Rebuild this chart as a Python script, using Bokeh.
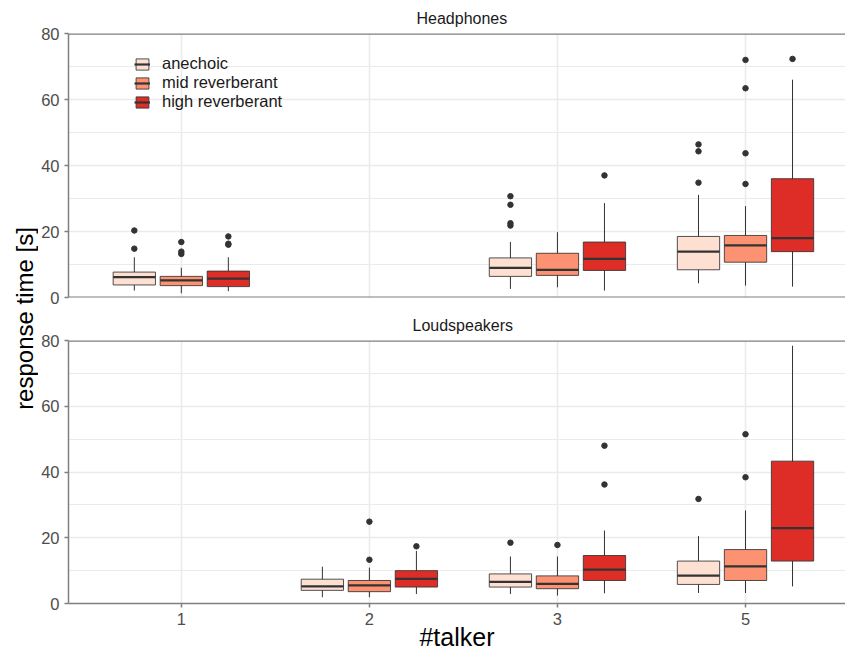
import math
from bokeh.plotting import figure
from bokeh.models import Range1d, FixedTicker, Span, Legend, LegendItem, Label, ColumnDataSource
from bokeh.layouts import row, column
from bokeh.embed import file_html
from bokeh.resources import INLINE

# ---------------- data ----------------
talkers = ["1", "2", "3", "5"]
conditions = ["anechoic", "mid reverberant", "high reverberant"]
colors = ["#FEE0D2", "#FC9272", "#DE2D26"]

# Headphones: box statistics (condition x talker)
hp_talker = ["1", "3", "5", "1", "3", "5", "1", "3", "5"]
hp_cond = ["anechoic", "anechoic", "anechoic",
           "mid reverberant", "mid reverberant", "mid reverberant",
           "high reverberant", "high reverberant", "high reverberant"]
hp_lower = [2.1, 2.6, 4.3, 1.3, 3.1, 3.6, 1.9, 2.1, 3.3]
hp_q1 = [3.8, 6.4, 8.4, 3.6, 6.7, 10.7, 3.3, 8.2, 13.9]
hp_median = [6.2, 9.0, 13.9, 5.2, 8.4, 15.8, 5.7, 11.7, 18.0]
hp_q3 = [7.7, 12.0, 18.5, 6.4, 13.4, 18.8, 8.0, 16.8, 36.0]
hp_upper = [12.2, 16.8, 31.1, 9.0, 19.8, 27.7, 12.2, 28.6, 66.0]
hp_out_talker = ["1", "1", "3", "3", "3", "3", "5", "5", "5",
                 "1", "1", "1", "5", "5", "5", "5",
                 "1", "1", "1", "3", "5"]
hp_out_cond = ["anechoic"] * 9 + ["mid reverberant"] * 7 + ["high reverberant"] * 5
hp_out_value = [14.8, 20.3, 21.8, 22.5, 28.1, 30.7, 34.8, 44.3, 46.4,
                13.2, 13.9, 16.8, 34.4, 43.7, 63.4, 72.0,
                16.0, 16.3, 18.5, 37.0, 72.3]

# Loudspeakers: box statistics (condition x talker)
ls_talker = ["2", "3", "5", "2", "3", "5", "2", "3", "5"]
ls_cond = ["anechoic", "anechoic", "anechoic",
           "mid reverberant", "mid reverberant", "mid reverberant",
           "high reverberant", "high reverberant", "high reverberant"]
ls_lower = [1.9, 2.9, 3.2, 1.9, 2.4, 3.2, 2.9, 3.1, 5.2]
ls_q1 = [4.0, 5.0, 5.8, 3.6, 4.5, 7.0, 5.0, 7.0, 12.9]
ls_median = [5.2, 6.6, 8.5, 5.5, 6.0, 11.3, 7.5, 10.3, 22.9]
ls_q3 = [7.4, 9.0, 12.9, 7.0, 8.4, 16.4, 10.0, 14.6, 43.3]
ls_upper = [11.2, 14.3, 20.5, 10.9, 14.3, 28.3, 16.0, 22.2, 78.4]
ls_out_talker = ["3", "5", "2", "2", "3", "5", "5", "2", "3", "3"]
ls_out_cond = ["anechoic"] * 2 + ["mid reverberant"] * 5 + ["high reverberant"] * 3
ls_out_value = [18.5, 31.8, 13.3, 24.9, 17.8, 38.4, 51.5, 17.4, 36.2, 48.0]

y_ticks = [0, 20, 40, 60, 80]
y_minor = [10, 30, 50, 70]

# ---------------- styling ----------------
FONT = "Liberation Sans"
DODGE = [-0.25, 0.0, 0.25]
BOX_W = 0.225
LINE = "#333333"
FRAME = "#7F7F7F"
GRID = "#EBEBEB"
YLAB_W = 38
TOTAL_H = 653
FRAME_L = 67          # frame left edge on the page
PX_PER_CAT = 188.3    # pixels between categories


def xpos(t, c):
    return talkers.index(t) + 1 + DODGE[conditions.index(c)]


def make_panel(title, title_offset, talker, cond, lower, q1, med, q3, upper,
               out_t, out_c, out_v, height, top_b, bot_b, bottom_axis):
    p = figure(width=845 - YLAB_W, height=height, output_backend="svg", toolbar_location=None,
               x_range=Range1d(0.4, 0.4 + (845 - FRAME_L) / PX_PER_CAT), y_range=Range1d(0, 80),
               min_border_left=FRAME_L - YLAB_W, min_border_right=0,
               min_border_top=top_b, min_border_bottom=bot_b)
    p.outline_line_color = None
    p.background_fill_color = "white"
    p.border_fill_color = "white"

    p.title.text = title
    p.title.align = "left"
    p.title.offset = title_offset
    p.title.text_font = FONT
    p.title.text_font_size = "16px"
    p.title.text_font_style = "normal"
    p.title.text_color = "#1A1A1A"
    p.title.standoff = 14

    # axes
    p.yaxis.ticker = FixedTicker(ticks=y_ticks, minor_ticks=y_minor)
    p.xaxis.ticker = FixedTicker(ticks=[1, 2, 3, 4])
    p.xaxis.major_label_overrides = {1: "1", 2: "2", 3: "3", 4: "5"}
    for ax in (p.xaxis[0], p.yaxis[0]):
        ax.axis_line_color = FRAME
        ax.axis_line_width = 1.5
        ax.major_tick_line_color = FRAME
        ax.major_tick_line_width = 1.5
        ax.major_tick_out = 4
        ax.major_tick_in = 0
        ax.minor_tick_line_color = None
        ax.major_label_text_font = FONT
        ax.major_label_text_font_size = "16.5px"
        ax.major_label_text_color = "#4D4D4D"
        ax.axis_label_text_font = FONT
        ax.axis_label_text_font_style = "normal"
        ax.axis_label_text_font_size = "25px"
        ax.axis_label_text_color = "#000000"
    p.yaxis.major_label_standoff = 5
    p.xaxis.major_label_standoff = 5
    if bottom_axis:
        p.xaxis.axis_label = "#talker"
        p.xaxis.axis_label_standoff = -5
    else:
        p.xaxis.visible = False
        p.add_layout(Span(location=0, dimension="width", line_color=FRAME, line_width=2))
    p.add_layout(Span(location=80, dimension="width", line_color=FRAME, line_width=2.5))

    # grid
    p.xgrid.grid_line_color = GRID
    p.xgrid.grid_line_width = 1.6
    p.ygrid.grid_line_color = GRID
    p.ygrid.grid_line_width = 1.6
    p.ygrid.minor_grid_line_color = GRID
    p.ygrid.minor_grid_line_width = 1

    items = []
    for ci, c in enumerate(conditions):
        idx = [i for i in range(len(talker)) if cond[i] == c]
        xs = [xpos(talker[i], c) for i in idx]
        src = ColumnDataSource(dict(
            x=xs,
            lower=[lower[i] for i in idx], q1=[q1[i] for i in idx],
            med=[med[i] for i in idx], q3=[q3[i] for i in idx],
            upper=[upper[i] for i in idx],
            x0=[x - BOX_W / 2 for x in xs], x1=[x + BOX_W / 2 for x in xs]))
        p.segment(x0="x", y0="lower", x1="x", y1="upper", source=src,
                  line_color=LINE, line_width=1)
        box = p.vbar(x="x", width=BOX_W, bottom="q1", top="q3", source=src,
                     fill_color=colors[ci], line_color=LINE, line_width=1, line_alpha=0.85)
        medr = p.segment(x0="x0", y0="med", x1="x1", y1="med", source=src,
                         line_color=LINE, line_width=2.2)
        items.append(LegendItem(label=c, renderers=[box, medr]))

        oidx = [i for i in range(len(out_t)) if out_c[i] == c]
        osrc = ColumnDataSource(dict(
            x=[xpos(out_t[i], c) for i in oidx], y=[out_v[i] for i in oidx]))
        p.scatter(x="x", y="y", source=osrc, size=5.5, fill_color=LINE,
                  line_color=LINE)
    return p, items


TOP_H = 307
top, top_items = make_panel("Headphones", 348, hp_talker, hp_cond, hp_lower, hp_q1, hp_median,
                            hp_q3, hp_upper, hp_out_talker, hp_out_cond, hp_out_value,
                            TOP_H, 33, 10, False)
bot, _ = make_panel("Loudspeakers", 344, ls_talker, ls_cond, ls_lower, ls_q1, ls_median,
                    ls_q3, ls_upper, ls_out_talker, ls_out_cond, ls_out_value,
                    TOTAL_H - TOP_H, 33, 50, True)

legend = Legend(items=top_items, location=(66, 186), orientation="vertical",
                label_text_font=FONT, label_text_font_size="16.5px",
                label_text_color="#1A1A1A", glyph_width=16, glyph_height=14,
                label_height=14, spacing=0, padding=0, margin=0,
                label_standoff=12, border_line_color=None,
                background_fill_alpha=0)
top.add_layout(legend)

# y-axis title shared by both panels
ylab = figure(width=YLAB_W, height=TOTAL_H, output_backend="svg", toolbar_location=None,
              x_range=Range1d(0, YLAB_W), y_range=Range1d(0, TOTAL_H),
              x_axis_type=None, y_axis_type=None,
              min_border_left=0, min_border_right=0, min_border_top=0, min_border_bottom=0)
ylab.outline_line_color = None
ylab.grid.visible = False
ylab.add_layout(Label(x=24, y=TOTAL_H - 318, text="response time [s]", angle=math.pi / 2,
                      text_align="center", text_baseline="middle",
                      text_font=FONT, text_font_size="24px", text_color="#000000"))

layout = row(ylab, column(top, bot))
open("out.html", "w").write(file_html(layout, INLINE))
